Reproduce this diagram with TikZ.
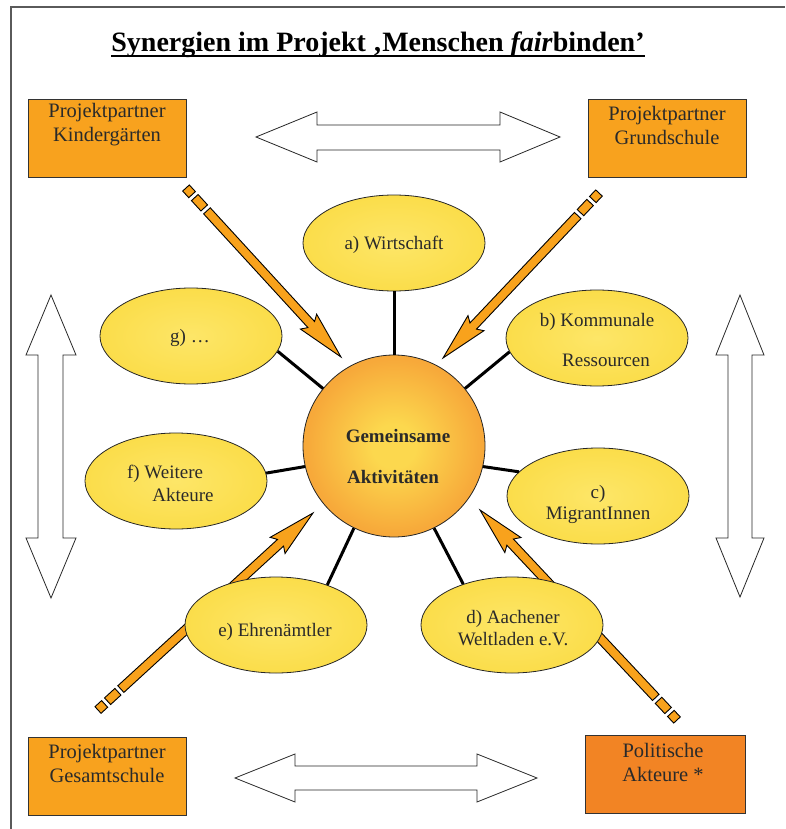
\documentclass[tikz,border=0pt]{standalone}
\usepackage{fontspec}
\setmainfont{Liberation Serif}
\usetikzlibrary{calc,shapes.geometric}
\definecolor{boxor}{HTML}{F8A21E}
\definecolor{boxdk}{HTML}{F28424}
\definecolor{ellin}{HTML}{FDE668}
\definecolor{ellout}{HTML}{FBDD4A}
\definecolor{arror}{HTML}{F8A21C}
\definecolor{txt}{HTML}{2A2A2A}
\definecolor{framec}{HTML}{5A5A5A}
\definecolor{cA}{HTML}{FCD84E}
\definecolor{cB}{HTML}{F7A93A}
\definecolor{cC}{HTML}{F1922E}
\pgfdeclareradialshading{ballshade}{\pgfpoint{0bp}{0bp}}{color(0bp)=(cA); color(6bp)=(cA); color(24bp)=(cB); color(48bp)=(cC); color(50bp)=(cC)}
\newcommand\oarrow[2]{%
\path let \p1=($(#2)-(#1)$), \n1={atan2(\y1,\x1)}, \n2={veclen(\x1,\y1)} in
 [oarr]
 ($(#1)+(\n1:0pt)+(\n1+90:4.5pt)$) -- ($(#1)+(\n1:9pt)+(\n1+90:4.5pt)$) -- ($(#1)+(\n1:9pt)+(\n1-90:4.5pt)$) -- ($(#1)+(\n1:0pt)+(\n1-90:4.5pt)$) -- cycle
 ($(#1)+(\n1:13pt)+(\n1+90:4.5pt)$) -- ($(#1)+(\n1:27pt)+(\n1+90:4.5pt)$) -- ($(#1)+(\n1:27pt)+(\n1-90:4.5pt)$) -- ($(#1)+(\n1:13pt)+(\n1-90:4.5pt)$) -- cycle
 ($(#1)+(\n1:31pt)+(\n1+90:4.5pt)$) -- ($(#1)+(\n1:\n2-44pt)+(\n1+90:4.5pt)$) -- ($(#1)+(\n1:\n2-48pt)+(\n1+90:11pt)$) -- (#2) -- ($(#1)+(\n1:\n2-48pt)+(\n1-90:11pt)$) -- ($(#1)+(\n1:\n2-44pt)+(\n1-90:4.5pt)$) -- ($(#1)+(\n1:31pt)+(\n1-90:4.5pt)$) -- cycle;
}
\begin{document}
\begin{tikzpicture}[x=1pt,y=-1pt,
  pbox/.style={draw=black!80, line width=0.8pt, fill=boxor, minimum width=158pt, minimum height=78pt, inner sep=0pt},
  boxtxt/.style={text=txt, align=center, font=\fontsize{20.5}{24}\selectfont, inner sep=0pt},
  ell/.style={ellipse, draw=black!85, line width=0.8pt, shading=radial, inner color=ellin, outer color=ellout, minimum width=182pt, minimum height=96pt, inner sep=0pt},
  etxt/.style={text=txt, font=\fontsize{19}{22}\selectfont, inner sep=0pt, align=center},
  link/.style={line width=3pt, black},
  hollow/.style={draw=black!85, fill=white, line width=0.8pt, line join=miter},
  oarr/.style={fill=arror, draw=black, line width=0.9pt, line join=miter}
]
\useasboundingbox (0,0) rectangle (785,829);
\fill[white] (0,0) rectangle (785,829);
\draw[framec, line width=2pt] (11,829) -- (11,7) -- (785,7);

% title
\node[inner sep=0pt, anchor=base, font=\fontsize{28}{30}\selectfont\bfseries, text=black] (title) at (378,52) {Synergien im Projekt ‚Menschen \textit{fair}binden’};
\draw[line width=1.6pt] ($(title.base west)+(0,4)$) -- ($(title.base east)+(0,4)$);

% boxes
\node[pbox] (kg) at (107,138) {};
\node[boxtxt] (kgt) at (107,125) {Projektpartner\\Kindergärten};
\node[pbox] (gs) at (667,138) {};
\node[boxtxt] (gst) at (667,125) {Projektpartner\\Grundschule};
\node[pbox] (ge) at (107,776) {};
\node[boxtxt] (get) at (107,763) {Projektpartner\\Gesamtschule};
\node[pbox, fill=boxdk, minimum width=160pt] (pa) at (665,774) {};
\node[boxtxt] (pat) at (663,762) {Politische\\Akteure *};

% hollow double arrows
\draw[hollow] (256,137) -- (317,112) -- (317,125) -- (500,125) -- (500,112) -- (560,137) -- (500,162) -- (500,150) -- (317,150) -- (317,162) -- cycle;
\draw[hollow] (235,778) -- (295,754) -- (295,766) -- (477,766) -- (477,754) -- (537,778) -- (477,802) -- (477,790) -- (295,790) -- (295,802) -- cycle;
\draw[hollow] (51,295) -- (76,355) -- (63,355) -- (63,538) -- (76,538) -- (51,598) -- (26,538) -- (38,538) -- (38,355) -- (26,355) -- cycle;
\draw[hollow] (740,295) -- (764,355) -- (752,355) -- (752,538) -- (764,538) -- (740,597) -- (716,538) -- (728,538) -- (728,355) -- (716,355) -- cycle;

% orange arrows (behind the ellipses)
\coordinate (tlS) at (186,188); \coordinate (tlT) at (341,357);
\coordinate (trS) at (599,193); \coordinate (trT) at (443,358);
\coordinate (blS) at (98,710);  \coordinate (blT) at (313,513);
\coordinate (brS) at (677,720); \coordinate (brT) at (480,510);
\oarrow{tlS}{tlT}
\oarrow{trS}{trT}
\oarrow{blS}{blT}
\oarrow{brS}{brT}

% ellipses
\node[ell] (a) at (394,243) {};
\node[ell] (b) at (597,338) {};
\node[ell] (c) at (598,496) {};
\node[ell] (d) at (512,625) {};
\node[ell] (e) at (276,625) {};
\node[ell] (f) at (176,481) {};
\node[ell] (g) at (191,336) {};

% center
\node[circle, draw=black!85, line width=0.8pt, shading=ballshade, minimum size=182pt, inner sep=0pt] (m) at (394,446) {};

% links
\draw[link] (m.90) -- (a.270);
\draw[link] (m.39) -- (b.189);
\draw[link] (m.-13) -- (c.163);
\draw[link] (m.-64) -- (d.140);
\draw[link] (m.244) -- (e.38);
\draw[link] (m.193) -- (f.5);
\draw[link] (m.141) -- (g.-10);

% texts
\node[etxt] (at) at (394,245) {a) Wirtschaft};
\node[etxt] (bt1) at (597,322) {b) Kommunale};
\node[etxt] (bt2) at (606,360) {Ressourcen};
\node[etxt] (ct1) at (598,494) {c)};
\node[etxt] (ct2) at (598,515) {MigrantInnen};
\node[etxt] (dt) at (513,628) {d) Aachener\\Weltladen e.V.};
\node[etxt] (et) at (275,632) {e) Ehrenämtler};
\node[etxt] (ft1) at (165,474) {f) Weitere};
\node[etxt] (ft2) at (183,495) {Akteure};
\node[etxt] (gt) at (190,338) {g) \dots};
\node[etxt, font=\fontsize{19}{22}\selectfont\bfseries] (mt1) at (398,436) {Gemeinsame};
\node[etxt, font=\fontsize{19}{22}\selectfont\bfseries] (mt2) at (393,477) {Aktivitäten};
\end{tikzpicture}
\end{document}
